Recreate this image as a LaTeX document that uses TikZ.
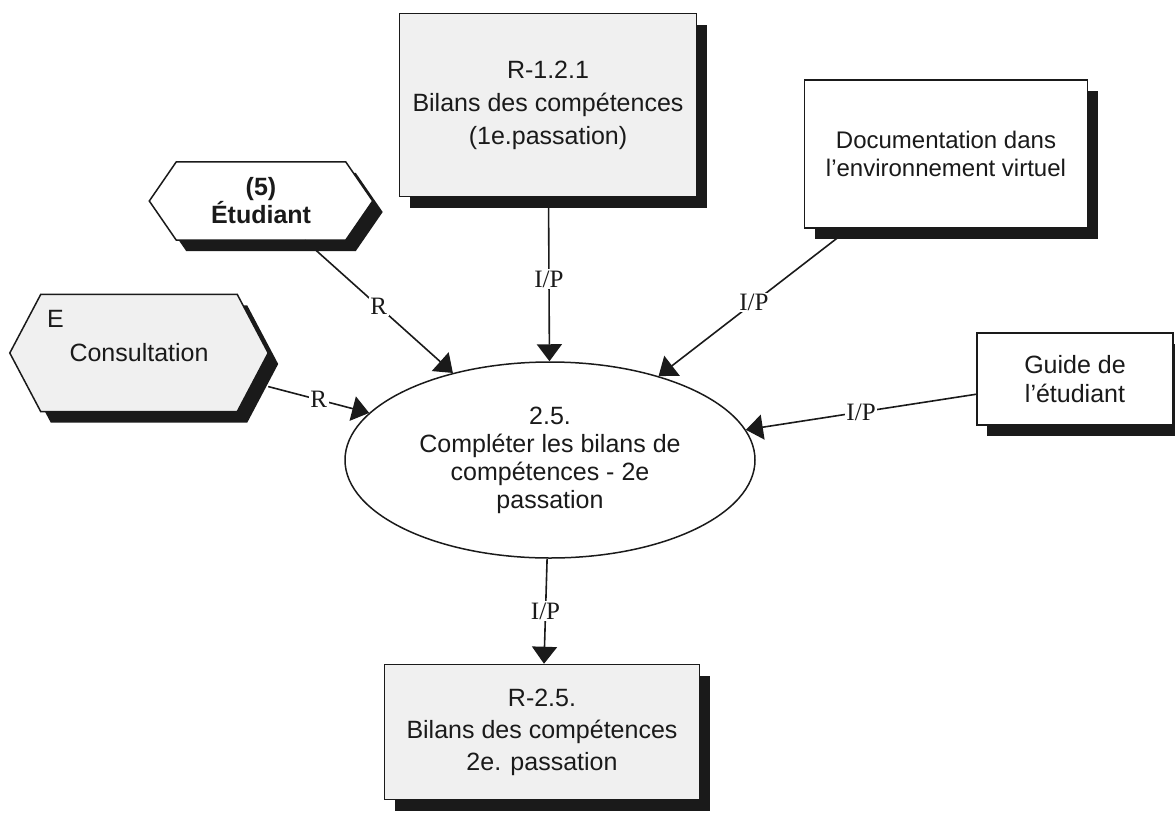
\documentclass[tikz,border=0pt]{standalone}
\usepackage{fontspec}
\setmainfont{Liberation Sans}
\newfontfamily\labfont{Liberation Serif}
\usetikzlibrary{arrows.meta,positioning,calc,shapes.geometric,shadows,backgrounds}
\definecolor{inkdark}{HTML}{1A1A1A}
\definecolor{paper}{HTML}{F0F0F0}
\tikzset{
  boxfont/.style={font=\fontsize{25}{33}\selectfont, text=inkdark},
  % result and resource boxes, with their heavy shadow
  resbox/.style={draw=inkdark, fill=white, line width=1.5pt, align=center,
    inner sep=0pt, boxfont,
    drop shadow={shadow xshift=10pt, shadow yshift=-11pt, opacity=1, fill=inkdark}},
  % actors: the text box only, the hexagon goes on the background layer
  actor/.style={rectangle, align=center, inner sep=0pt,
    font=\fontsize{25}{28}\selectfont\bfseries, text=inkdark},
  hexline/.style={draw=inkdark, line width=1.5pt},
  procnode/.style={ellipse, draw=inkdark, fill=white, line width=1.5pt,
    align=center, inner sep=0pt, font=\fontsize{25}{28}\selectfont, text=inkdark},
  flow/.style={-{Triangle[length=17pt, width=25pt]}, line width=1.6pt, color=inkdark},
  lab/.style={fill=white, inner sep=1.5pt, text=inkdark,
    font=\labfont\fontsize{25}{25}\selectfont},
}
\begin{document}
\begin{tikzpicture}[x=1pt,y=-1pt]
  \useasboundingbox (0,0) rectangle (1175,825);
  % process
  \node[procnode, minimum width=410pt, minimum height=196pt] (proc) at (550,460)
    {2.5.\\Compléter les bilans de\\compétences - 2e\\passation};
  % inputs
  \node[resbox, fill=paper, minimum width=297pt, minimum height=183pt] (bilanA) at (548,105)
    {R-1.2.1\\Bilans des compétences\\(1e.passation)};
  \node[resbox, font=\fontsize{24}{28}\selectfont, minimum width=283pt, minimum height=148pt]
    (docenv) at (946,154) {Documentation dans\\l'environnement virtuel};
  \node[resbox, font=\fontsize{25}{29}\selectfont, minimum width=196pt, minimum height=92pt]
    (guide) at (1075,379) {Guide de\\l'étudiant};
  \node[actor, minimum width=223pt, minimum height=78pt] (stud) at (261,201)
    {(5)\\Étudiant};
  \node[actor, font=\fontsize{25}{28}\selectfont, minimum width=258pt, minimum height=117pt]
    (consult) at (139,353) {Consultation};
  \node[boxfont, anchor=north west, inner sep=0pt] (consultE)
    at ($(consult.north west)+(37,16)$) {E};
  % output
  \node[resbox, fill=paper, font=\fontsize{25}{32}\selectfont,
    minimum width=315pt, minimum height=135pt] (bilanB) at (542,732)
    {R-2.5.\\Bilans des compétences\\2e. passation};
  % hexagons behind the actors
  \begin{scope}[on background layer]
    \foreach \h/\d/\c in {stud/27/white, consult/31/paper} {
      \fill[inkdark] ($(\h.west)+(10,11)$) -- ($(\h.north west)+(\d+10,11)$)
        -- ($(\h.north east)+(10-\d,11)$) -- ($(\h.east)+(10,11)$)
        -- ($(\h.south east)+(10-\d,11)$) -- ($(\h.south west)+(\d+10,11)$) -- cycle;
      \draw[hexline, fill=\c] (\h.west) -- ($(\h.north west)+(\d,0)$)
        -- ($(\h.north east)+(-\d,0)$) -- (\h.east)
        -- ($(\h.south east)+(-\d,0)$) -- ($(\h.south west)+(\d,0)$) -- cycle;
    }
  \end{scope}
  % connectors
  \draw[flow] (bilanA) -- node[lab] {I/P} (proc);
  \draw[flow] (docenv) -- node[lab] {I/P} (proc);
  \draw[flow] (guide) -- node[lab] {I/P} (proc);
  \draw[flow] (stud) -- node[lab] {R} (proc);
  \draw[flow] (consult) -- node[lab] {R} (proc);
  \draw[flow] (proc) -- node[lab] {I/P} (bilanB);
\end{tikzpicture}
\end{document}
